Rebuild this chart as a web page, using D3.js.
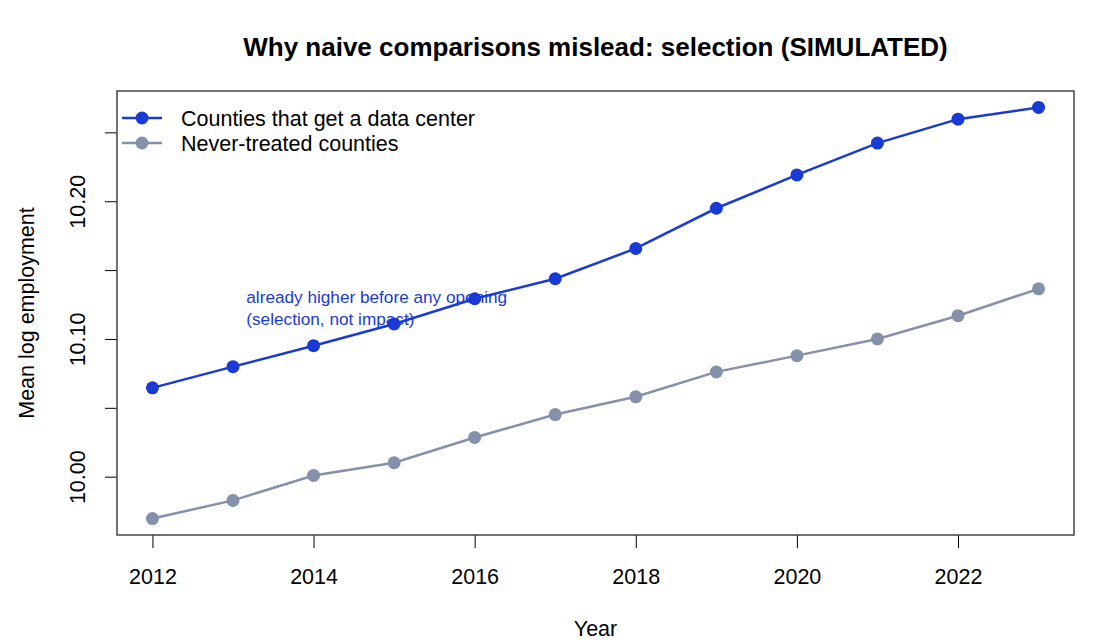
<!DOCTYPE html>
<html>
<head>
<meta charset="utf-8">
<script src="https://cdn.jsdelivr.net/npm/d3@7"></script>
<style>
  body { margin: 0; background: #fff; }
  svg text { font-family: "Liberation Sans", Arial, Helvetica, sans-serif; }
</style>
</head>
<body>
<div id="chart"></div>
<script>
// values
const years = [2012, 2013, 2014, 2015, 2016, 2017, 2018, 2019, 2020, 2021, 2022, 2023];
const treated = [10.0645, 10.0799, 10.0951, 10.1109, 10.1292, 10.1437, 10.1657, 10.1949, 10.2191, 10.2422, 10.2596, 10.2681];
const never = [9.9696, 9.9828, 10.0009, 10.0101, 10.0285, 10.0451, 10.0580, 10.0761, 10.0879, 10.1000, 10.1169, 10.1364];
const seriesNames = ["Counties that get a data center", "Never-treated counties"];
const seriesColors = ["#1a3ad6", "#8591ab"];
const xTicks = [2012, 2014, 2016, 2018, 2020, 2022];
const yTicks = [10.00, 10.05, 10.10, 10.15, 10.20, 10.25];
const yLabelled = [10.00, 10.10, 10.20];
const noteLines = ["already higher before any opening", "(selection, not impact)"];

const W = 1100, H = 640;
const margin = {top: 91, right: 26, bottom: 105, left: 117};
const iw = W - margin.left - margin.right;
const ih = H - margin.top - margin.bottom;
const fs = 21.5; // base font size

const svg = d3.select("#chart").append("svg")
    .attr("width", W)
    .attr("height", H);

// R style: pad the data range by 4% on each side
const pad = (lo, hi) => [lo - (hi - lo) * 0.04, hi + (hi - lo) * 0.04];
const x = d3.scaleLinear().domain(pad(d3.min(years), d3.max(years))).range([0, iw]);
const yAll = treated.concat(never);
const y = d3.scaleLinear().domain(pad(d3.min(yAll), d3.max(yAll))).range([ih, 0]);

const g = svg.append("g").attr("transform", `translate(${margin.left},${margin.top})`);

// title
svg.append("text")
    .attr("x", margin.left + iw / 2)
    .attr("y", 56)
    .attr("text-anchor", "middle")
    .style("font-size", "26px")
    .style("font-weight", "bold")
    .text("Why naive comparisons mislead: selection (SIMULATED)");

// x axis
const xAxis = g.append("g")
    .attr("transform", `translate(0,${ih})`)
    .call(d3.axisBottom(x).tickValues(xTicks).tickFormat(d3.format("d")).tickSize(13).tickSizeOuter(0).tickPadding(21));
xAxis.select(".domain").remove();
xAxis.selectAll("text").style("font-size", fs + "px").attr("fill", "#000");

// y axis (only every other tick gets a label, like R drops overlapping ones)
const yAxis = g.append("g")
    .call(d3.axisLeft(y).tickValues(yTicks).tickSize(12).tickSizeOuter(0)
        .tickFormat(d => yLabelled.includes(d) ? d3.format(".2f")(d) : ""));
yAxis.select(".domain").remove();
yAxis.selectAll("text")
    .attr("x", null).attr("dy", null)
    .attr("text-anchor", "middle")
    .attr("transform", "translate(-32,0) rotate(-90)")
    .style("font-size", fs + "px")
    .attr("fill", "#000");

// axis titles
svg.append("text")
    .attr("x", margin.left + iw / 2)
    .attr("y", 636)
    .attr("text-anchor", "middle")
    .style("font-size", fs + "px")
    .text("Year");

svg.append("text")
    .attr("transform", `translate(34,${margin.top + ih / 2}) rotate(-90)`)
    .attr("text-anchor", "middle")
    .style("font-size", fs + "px")
    .text("Mean log employment");

// plot box
g.append("rect")
    .attr("width", iw)
    .attr("height", ih)
    .attr("fill", "none")
    .attr("stroke", "#444")
    .attr("stroke-width", 1.5);

const line = d3.line().x((d, i) => x(years[i])).y(d => y(d));

[treated, never].forEach((vals, k) => {
    g.append("path")
        .datum(vals)
        .attr("d", line)
        .attr("fill", "none")
        .attr("stroke", seriesColors[k])
        .attr("stroke-width", 2.5);
    g.selectAll(null)
        .data(vals)
        .join("circle")
        .attr("cx", (d, i) => x(years[i]))
        .attr("cy", d => y(d))
        .attr("r", 6.5)
        .attr("fill", seriesColors[k]);
});

// annotation
g.append("text")
    .attr("x", x(2013.165))
    .attr("y", y(10.1227))
    .style("font-size", "17.2px")
    .attr("fill", seriesColors[0])
    .selectAll("tspan")
    .data(noteLines)
    .join("tspan")
    .attr("x", x(2013.165))
    .attr("dy", (d, i) => i === 0 ? "-0.3em" : "1.3em")
    .text(d => d);

// legend (no box)
const legend = g.append("g").attr("transform", "translate(5,27)");
seriesNames.forEach((name, k) => {
    const row = legend.append("g").attr("transform", `translate(0,${k * 25})`);
    row.append("line").attr("x1", 0).attr("x2", 40)
        .attr("stroke", seriesColors[k]).attr("stroke-width", 2.5);
    row.append("circle").attr("cx", 20).attr("r", 6.5).attr("fill", seriesColors[k]);
    row.append("text").attr("x", 59).attr("dy", "0.35em")
        .style("font-size", fs + "px").text(name);
});
</script>
</body>
</html>
